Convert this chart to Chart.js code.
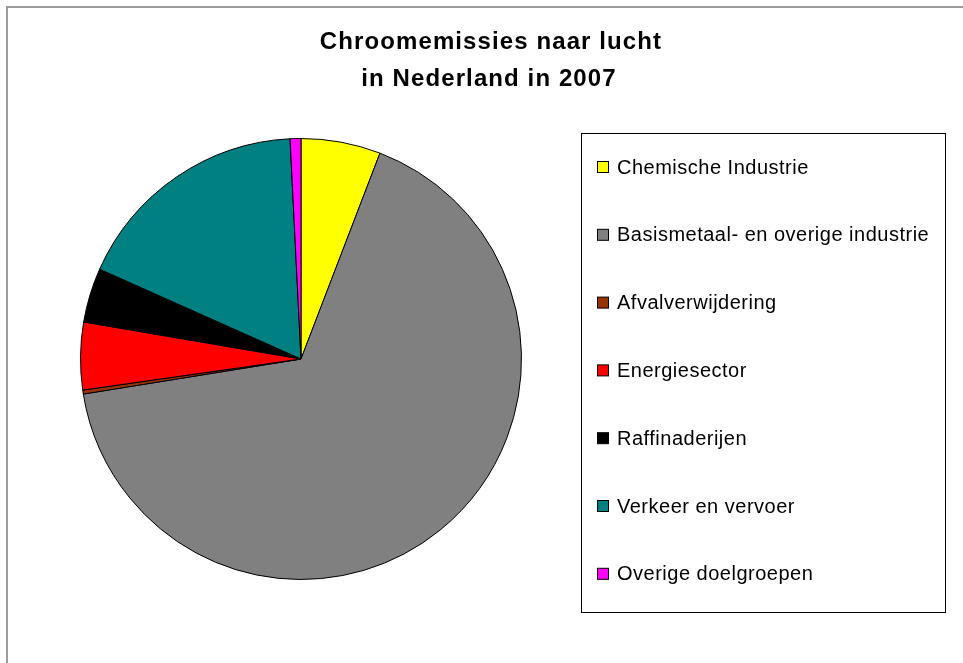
<!DOCTYPE html>
<html>
<head>
<meta charset="utf-8">
<title>Chroomemissies naar lucht</title>
<script src="https://cdn.jsdelivr.net/npm/chart.js"></script>
<style>
  html, body { margin: 0; padding: 0; background: #fff; }
  canvas { display: block; }
</style>
</head>
<body>
<canvas id="chart" width="963" height="663"></canvas>
<script>
// aandeel per doelgroep (%)
const categories = [
  "Chemische Industrie",
  "Basismetaal- en overige industrie",
  "Afvalverwijdering",
  "Energiesector",
  "Raffinaderijen",
  "Verkeer en vervoer",
  "Overige doelgroepen"
];
const shares = [5.83, 66.62, 0.29, 4.94, 3.99, 17.53, 0.79];
const colors = ["#ffff00", "#808080", "#993300", "#ff0000", "#000000", "#008080", "#ff00ff"];
const titleLines = ["Chroomemissies naar lucht", "in Nederland in 2007"];

// frame, titel en legenda zoals in de Excel-grafiek
const decorPlugin = {
  id: "decor",
  afterDraw(chart) {
    const ctx = chart.ctx;
    ctx.save();

    // grijze rand rond het grafiekgebied
    ctx.strokeStyle = "#9c9c9c";
    ctx.lineWidth = 2;
    ctx.strokeRect(7, 7, 1100, 1100);

    // titel
    ctx.fillStyle = "#000";
    ctx.font = "bold 24px 'Liberation Sans', Arial, sans-serif";
    ctx.letterSpacing = "1.1px";
    ctx.textAlign = "center";
    ctx.textBaseline = "alphabetic";
    ctx.fillText(titleLines[0], 491, 49);
    ctx.fillText(titleLines[1], 489, 86);

    // legenda
    ctx.strokeStyle = "#000";
    ctx.lineWidth = 1;
    ctx.strokeRect(581.5, 133.5, 364, 479);

    const ds = chart.data.datasets[0];
    ctx.font = "20px 'Liberation Sans', Arial, sans-serif";
    ctx.letterSpacing = "0.5px";
    ctx.textAlign = "left";
    chart.data.labels.forEach((label, i) => {
      const cy = 167 + i * 67.8;
      ctx.fillStyle = ds.backgroundColor[i];
      ctx.fillRect(597.5, cy - 5.5, 11, 11);
      ctx.strokeStyle = "#000";
      ctx.strokeRect(597.5, cy - 5.5, 11, 11);
      ctx.fillStyle = "#000";
      ctx.fillText(label, 617, cy + 6.5);
    });

    ctx.restore();
  }
};

new Chart(document.getElementById("chart"), {
  type: "pie",
  data: {
    labels: categories,
    datasets: [{
      data: shares,
      backgroundColor: colors,
      borderColor: "#000",
      borderWidth: 1
    }]
  },
  options: {
    responsive: false,
    animation: false,
    layout: {
      padding: { left: 80, top: 138, right: 441, bottom: 83 }
    },
    plugins: {
      legend: { display: false },
      title: { display: false },
      tooltip: { enabled: false }
    }
  },
  plugins: [decorPlugin]
});
</script>
</body>
</html>
